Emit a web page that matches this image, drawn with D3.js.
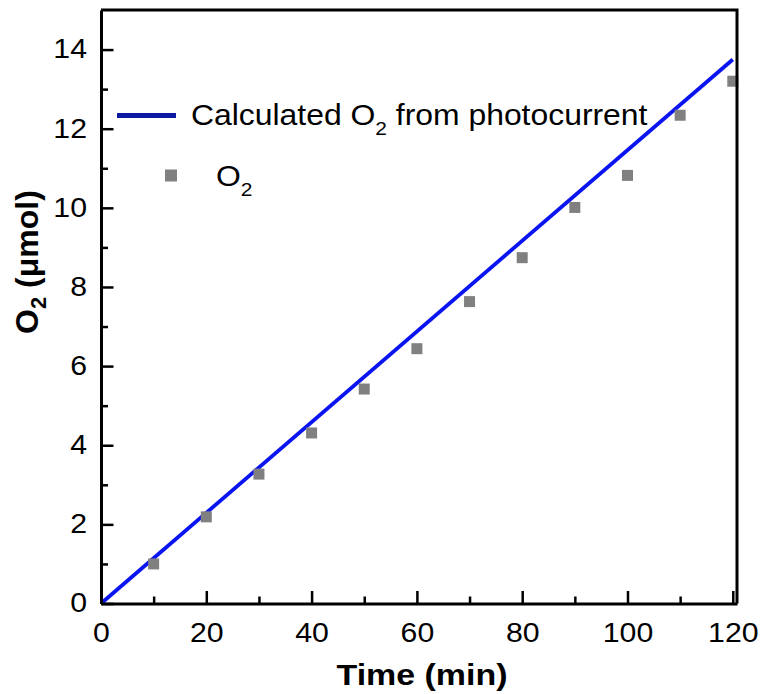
<!DOCTYPE html>
<html>
<head>
<meta charset="utf-8">
<script src="https://cdn.jsdelivr.net/npm/d3@7"></script>
<style>
  html, body { margin: 0; padding: 0; background: #fff; }
  svg { display: block; font-family: Arial, "Liberation Sans", sans-serif; }
</style>
</head>
<body>
<svg id="chart" width="760" height="694"></svg>
<script>
// ---- data ----
const times = [10, 20, 30, 40, 50, 60, 70, 80, 90, 100, 110, 120];
const o2Measured = [1.0, 2.19, 3.27, 4.31, 5.42, 6.44, 7.63, 8.74, 10.01, 10.82, 12.34, 13.2];
const calcTime = [0, 120];
const calcO2 = [0, 13.75];
const xTicks = [0, 20, 40, 60, 80, 100, 120];
const yTicks = [0, 2, 4, 6, 8, 10, 12, 14];
const xMinor = [10, 30, 50, 70, 90, 110];
const yMinor = [1, 3, 5, 7, 9, 11, 13];

// ---- layout ----
const mLeft = 101, mRight = 737, mTop = 10, mBottom = 603.5;
const FONT = "Arial, 'Liberation Sans', sans-serif";
const svg = d3.select("#chart");
const x = d3.scaleLinear().domain([0, 120.8]).range([mLeft, mRight]);
const y = d3.scaleLinear().domain([0, 15]).range([mBottom, mTop]);

// data line
const lineData = calcTime.map((t, i) => ({ t, v: calcO2[i] }));
svg.append("path")
  .datum(lineData)
  .attr("fill", "none")
  .attr("stroke", "#0a14f0")
  .attr("stroke-width", 3.8)
  .attr("d", d3.line().x(d => x(d.t)).y(d => y(d.v)));

// points
const ms = 11;
svg.append("g").selectAll("rect")
  .data(times.map((t, i) => ({ t, v: o2Measured[i] })))
  .join("rect")
  .attr("x", d => x(d.t) - ms / 2)
  .attr("y", d => y(d.v) - ms / 2)
  .attr("width", ms).attr("height", ms)
  .attr("fill", "#808080");

// frame (top & right)
svg.append("path")
  .attr("d", `M${mLeft},${mTop} H${mRight} V${mBottom}`)
  .attr("fill", "none").attr("stroke", "#000").attr("stroke-width", 3);

// axes
const fs = 28, sx = 1.08;
const xAxis = svg.append("g").attr("transform", `translate(0,${mBottom})`)
  .call(d3.axisBottom(x).tickValues(xTicks).tickSize(-12.5).tickPadding(19).tickSizeOuter(0));
xAxis.selectAll("text").attr("font-size", fs).attr("fill", "#000").attr("font-family", FONT)
  .attr("transform", `scale(${sx},1)`);
svg.append("g").attr("transform", `translate(0,${mBottom})`)
  .call(d3.axisBottom(x).tickValues(xMinor).tickSize(-7).tickFormat("").tickSizeOuter(0))
  .select(".domain").remove();

const yAxis = svg.append("g").attr("transform", `translate(${mLeft},0)`)
  .call(d3.axisLeft(y).tickValues(yTicks).tickSize(-12.5).tickPadding(13).tickSizeOuter(0));
yAxis.selectAll("text").attr("font-size", fs).attr("fill", "#000").attr("font-family", FONT)
  .attr("dy", "0.3em").attr("transform", `scale(${sx},1)`);
svg.append("g").attr("transform", `translate(${mLeft},0)`)
  .call(d3.axisLeft(y).tickValues(yMinor).tickSize(-7).tickFormat("").tickSizeOuter(0))
  .select(".domain").remove();

svg.selectAll(".domain").attr("stroke-width", 3).attr("stroke", "#000");
svg.selectAll(".tick line").attr("stroke-width", 2.5).attr("stroke", "#000");

// axis titles
svg.append("text")
  .attr("transform", "translate(422,685) scale(1.17,1)")
  .attr("text-anchor", "middle")
  .attr("font-size", 29).attr("font-weight", "bold")
  .text("Time (min)");

const yt = svg.append("text")
  .attr("transform", "translate(38,262) rotate(-90)")
  .attr("text-anchor", "middle")
  .attr("font-size", 32).attr("font-weight", "bold");
yt.append("tspan").text("O");
yt.append("tspan").attr("font-size", 22).attr("dy", 8).text("2");
yt.append("tspan").attr("dy", -8).text(" (μmol)");

// legend
svg.append("line")
  .attr("x1", 117).attr("x2", 176).attr("y1", 115.5).attr("y2", 115.5)
  .attr("stroke", "#0d1aa0").attr("stroke-width", 5);
const lt = svg.append("text").attr("transform", "translate(191,125) scale(1.1,1)").attr("font-size", 29);
lt.append("tspan").text("Calculated O");
lt.append("tspan").attr("font-size", 19).attr("dy", 10).text("2");
lt.append("tspan").attr("dy", -10).text(" from photocurrent");

const lms = 12;
svg.append("rect")
  .attr("x", 171 - lms / 2).attr("y", 175.5 - lms / 2)
  .attr("width", lms).attr("height", lms).attr("fill", "#808080");
const lt2 = svg.append("text").attr("transform", "translate(216,186) scale(1.1,1)").attr("font-size", 29);
lt2.append("tspan").text("O");
lt2.append("tspan").attr("font-size", 19).attr("dy", 10).text("2");
</script>
</body>
</html>
